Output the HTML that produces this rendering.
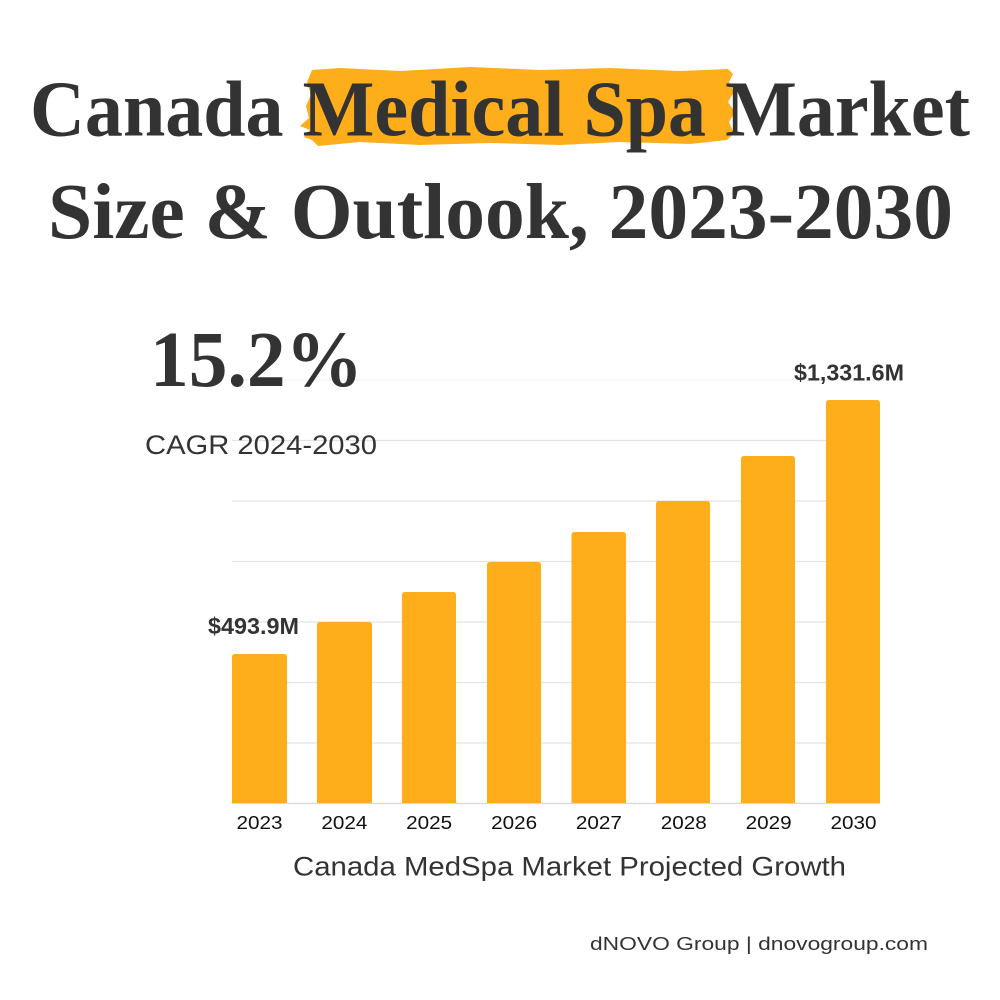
<!DOCTYPE html>
<html><head><meta charset="utf-8"><style>
html,body{margin:0;padding:0;background:#fff;}
svg{display:block;}
</style></head><body>
<svg width="1000" height="1000" viewBox="0 0 1000 1000" xmlns="http://www.w3.org/2000/svg">
<rect width="1000" height="1000" fill="#fff"/>
<!-- gridlines -->
<g stroke-width="1.2">
<line x1="232" x2="880" y1="380" y2="380" stroke="#f2f2f2"/>
<line x1="232" x2="880" y1="440.5" y2="440.5" stroke="#e4e4e4"/>
<line x1="232" x2="880" y1="501" y2="501" stroke="#e4e4e4"/>
<line x1="232" x2="880" y1="561.5" y2="561.5" stroke="#e4e4e4"/>
<line x1="232" x2="880" y1="622" y2="622" stroke="#e4e4e4"/>
<line x1="232" x2="880" y1="682.5" y2="682.5" stroke="#e4e4e4"/>
<line x1="232" x2="880" y1="743" y2="743" stroke="#e4e4e4"/>
<line x1="232" x2="880" y1="803.5" y2="803.5" stroke="#d8d8d8"/>
</g>
<!-- highlight brush -->
<path d="M312 70 L340 68 L400 71 L470 67 L540 70 L610 68 L680 71 L728 69 L733 74 L729 82 L734 92 L728 102 L735 112 L729 122 L734 133 L727 140 L690 144 L620 142 L560 145 L490 143 L420 145 L360 142 L318 146 L312 140 L304 137 L310 130 L300 126 L309 118 L306 106 L311 95 L307 82 Z" fill="#FDAE1A"/>
<g font-family="'Liberation Serif', serif" font-weight="bold" fill="#333" font-size="79">
<text x="30" y="135.5" textLength="940" lengthAdjust="spacingAndGlyphs">Canada Medical Spa Market</text>
<text x="48" y="238" textLength="905" lengthAdjust="spacingAndGlyphs">Size &amp; Outlook, 2023-2030</text>
</g>
<!-- white backing behind 15.2% / CAGR so gridlines sit behind -->
<text x="150" y="386" font-family="'Liberation Serif', serif" font-weight="bold" fill="#333" font-size="79" textLength="213" lengthAdjust="spacingAndGlyphs">15.2%</text>
<text x="145" y="454" font-family="'Liberation Sans', sans-serif" font-size="27" fill="#333" textLength="232" lengthAdjust="spacingAndGlyphs">CAGR 2024-2030</text>
<!-- bars -->
<g fill="#FDAE1A">
<path d="M232 803 V657 Q232 654 235 654 H284 Q287 654 287 657 V803 Z"/>
<path d="M317 803 V625 Q317 622 320 622 H369 Q372 622 372 625 V803 Z"/>
<path d="M402 803 V595 Q402 592 405 592 H453 Q456 592 456 595 V803 Z"/>
<path d="M487 803 V565 Q487 562 490 562 H538 Q541 562 541 565 V803 Z"/>
<path d="M571.5 803 V535 Q571.5 532 574.5 532 H623 Q626 532 626 535 V803 Z"/>
<path d="M656 803 V504 Q656 501 659 501 H707 Q710 501 710 504 V803 Z"/>
<path d="M741 803 V459 Q741 456 744 456 H792 Q795 456 795 459 V803 Z"/>
<path d="M826 803 V403 Q826 400 829 400 H877 Q880 400 880 403 V803 Z"/>
</g>
<!-- value labels -->
<g font-family="'Liberation Sans', sans-serif" font-weight="bold" font-size="23" fill="#333">
<text x="208" y="634" textLength="91" lengthAdjust="spacingAndGlyphs">$493.9M</text>
<text x="794" y="380.5" textLength="110" lengthAdjust="spacingAndGlyphs">$1,331.6M</text>
</g>
<!-- year labels -->
<g font-family="'Liberation Sans', sans-serif" font-size="18" fill="#111" text-anchor="middle">
<text x="259.5" y="829" textLength="46" lengthAdjust="spacingAndGlyphs">2023</text>
<text x="344.4" y="829" textLength="46" lengthAdjust="spacingAndGlyphs">2024</text>
<text x="429.2" y="829" textLength="46" lengthAdjust="spacingAndGlyphs">2025</text>
<text x="514.1" y="829" textLength="46" lengthAdjust="spacingAndGlyphs">2026</text>
<text x="598.9" y="829" textLength="46" lengthAdjust="spacingAndGlyphs">2027</text>
<text x="683.8" y="829" textLength="46" lengthAdjust="spacingAndGlyphs">2028</text>
<text x="768.6" y="829" textLength="46" lengthAdjust="spacingAndGlyphs">2029</text>
<text x="853.5" y="829" textLength="46" lengthAdjust="spacingAndGlyphs">2030</text>
</g>
<text x="293" y="875.5" font-family="'Liberation Sans', sans-serif" font-size="27" fill="#333" textLength="553" lengthAdjust="spacingAndGlyphs">Canada MedSpa Market Projected Growth</text>
<text x="590" y="950" font-family="'Liberation Sans', sans-serif" font-size="18.5" fill="#333" textLength="338" lengthAdjust="spacingAndGlyphs">dNOVO Group | dnovogroup.com</text>
</svg>
</body></html>
